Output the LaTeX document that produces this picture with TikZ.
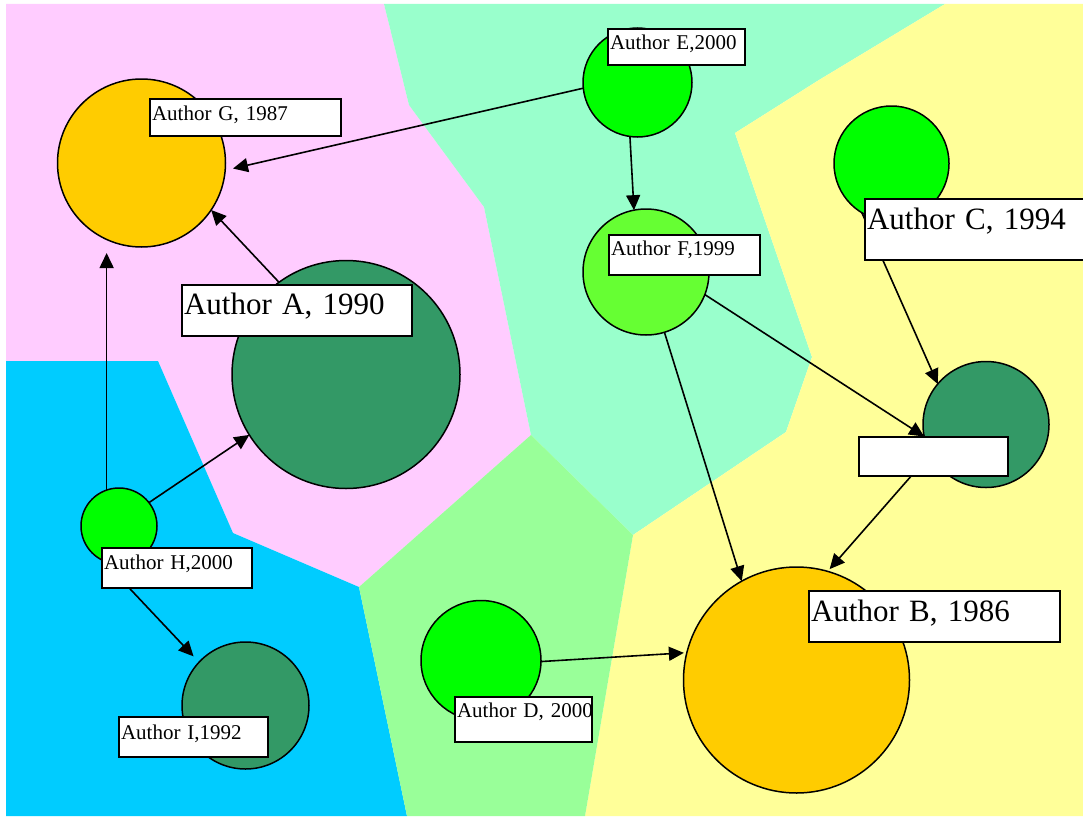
\documentclass[tikz,border=0pt]{standalone}
\usepackage{fontspec}
\setmainfont{Liberation Serif}
\usetikzlibrary{arrows.meta}
\definecolor{pinkzone}{HTML}{FFCCFF}
\definecolor{mintzone}{HTML}{99FFCC}
\definecolor{lemonzone}{HTML}{FFFF99}
\definecolor{skyzone}{HTML}{00CCFF}
\definecolor{leafzone}{HTML}{99FF99}
\definecolor{gold}{HTML}{FFCC00}
\definecolor{seagreen}{HTML}{339966}
\definecolor{lime}{HTML}{00FF00}
\definecolor{limeb}{HTML}{66FF33}
\tikzset{
  author/.style={circle, draw, line width=1.5pt, inner sep=0pt, outer sep=0pt},
  lbl/.style={draw, fill=white, line width=1.5pt, anchor=north west, inner xsep=2pt, inner ysep=0pt,
    outer sep=0pt, align=left, font=\fontsize{21}{21}\selectfont},
  biglbl/.style={lbl, font=\fontsize{31}{31}\selectfont},
  cite/.style={line width=1.6pt, -{Triangle[length=15pt,width=14pt]}}
}
\begin{document}
\begin{tikzpicture}[x=1pt,y=-1pt]
  \useasboundingbox (0,0) rectangle (1083,816);
  \clip (0,0) rectangle (1083,816);
  % zones
  \fill[pinkzone] (6,4) -- (384,4) -- (409,105) -- (484,207) -- (531,435) -- (359,587) -- (233,533) -- (158,361) -- (6,361) -- cycle;
  \fill[mintzone] (384,4) -- (945,4) -- (819,80) -- (735,133) -- (812,357) -- (786,432) -- (633,535) -- (531,435) -- (484,207) -- (409,105) -- cycle;
  \fill[lemonzone] (945,4) -- (1083,4) -- (1083,816) -- (585,816) -- (633,535) -- (786,432) -- (812,357) -- (735,133) -- (819,80) -- cycle;
  \fill[skyzone] (6,361) -- (158,361) -- (233,533) -- (359,587) -- (407,816) -- (6,816) -- cycle;
  \fill[leafzone] (531,435) -- (633,535) -- (585,816) -- (407,816) -- (359,587) -- cycle;
  % authors
  \node[author, fill=gold, minimum size=168pt] (G) at (141.5,163) {};
  \node[author, fill=seagreen, minimum size=228pt] (A) at (346,374.5) {};
  \node[author, fill=lime, minimum size=76pt] (H) at (119,526) {};
  \node[author, fill=seagreen, minimum size=127pt] (I) at (245.5,705.5) {};
  \node[author, fill=lime, minimum size=120pt] (D) at (481,660.5) {};
  \node[author, fill=lime, minimum size=109pt] (E) at (637.5,82.5) {};
  \node[author, fill=limeb, minimum size=126pt] (F) at (646,272) {};
  \node[author, fill=lime, minimum size=115pt] (C) at (891.5,163.5) {};
  \node[author, fill=seagreen, minimum size=126pt] (R) at (986,424.5) {};
  \node[author, fill=gold, minimum size=226pt] (B) at (796.5,680) {};
  % citations
  \draw[cite, shorten >=8pt] (E.186) -- (G.-5);
  \draw[cite] (A.126) -- (G.-34);
  \draw[cite, shorten >=6pt] (H.109) -- (H.109 |- G.south);
  \draw[cite] (H.38) -- (A.212);
  \draw[cite, shorten >=8pt] (H.-114) -- (I.137);
  \draw[cite] (E.-98) -- (F.101);
  \draw[cite] (F.-73) -- (B.119);
  \draw[cite] (F.-21) -- (R.191);
  \draw[cite] (C.-121) -- (R.140);
  \draw[cite, shorten >=3pt] (R.-152) -- (B.74);
  \draw[cite, shorten >=3pt] (D.-1) -- (B.166);
  % labels
  \node[lbl, text width=187pt, text height=21pt, text depth=16pt] (Gl) at (150,99) {Author G, 1987};
  \node[biglbl, text width=226pt, text height=29pt, text depth=22pt] (Al) at (182,285) {Author A, 1990};
  \node[lbl, text width=133pt, text height=21pt, text depth=15pt] (El) at (608,29) {Author E,2000};
  \node[lbl, text width=147pt, text height=20pt, text depth=20pt] (Fl) at (609,235) {Author F,1999};
  \node[biglbl, text width=231pt, text height=30pt, text depth=31pt] (Cl) at (865,199) {Author C, 1994};
  \node[lbl, text width=145pt, text height=20pt, text depth=19pt] (Rl) at (859,437) {};
  \node[biglbl, text width=247pt, text height=30pt, text depth=21pt] (Bl) at (809,591) {Author B, 1986};
  \node[lbl, text width=133pt, text height=20pt, text depth=25pt] (Dl) at (455,697) {\mbox{Author D, 2000}};
  \node[lbl, text width=146pt, text height=21pt, text depth=19pt] (Hl) at (102,548) {Author H,2000};
  \node[lbl, text width=145pt, text height=22pt, text depth=18pt] (Il) at (119,717) {Author I,1992};
\end{tikzpicture}
\end{document}
